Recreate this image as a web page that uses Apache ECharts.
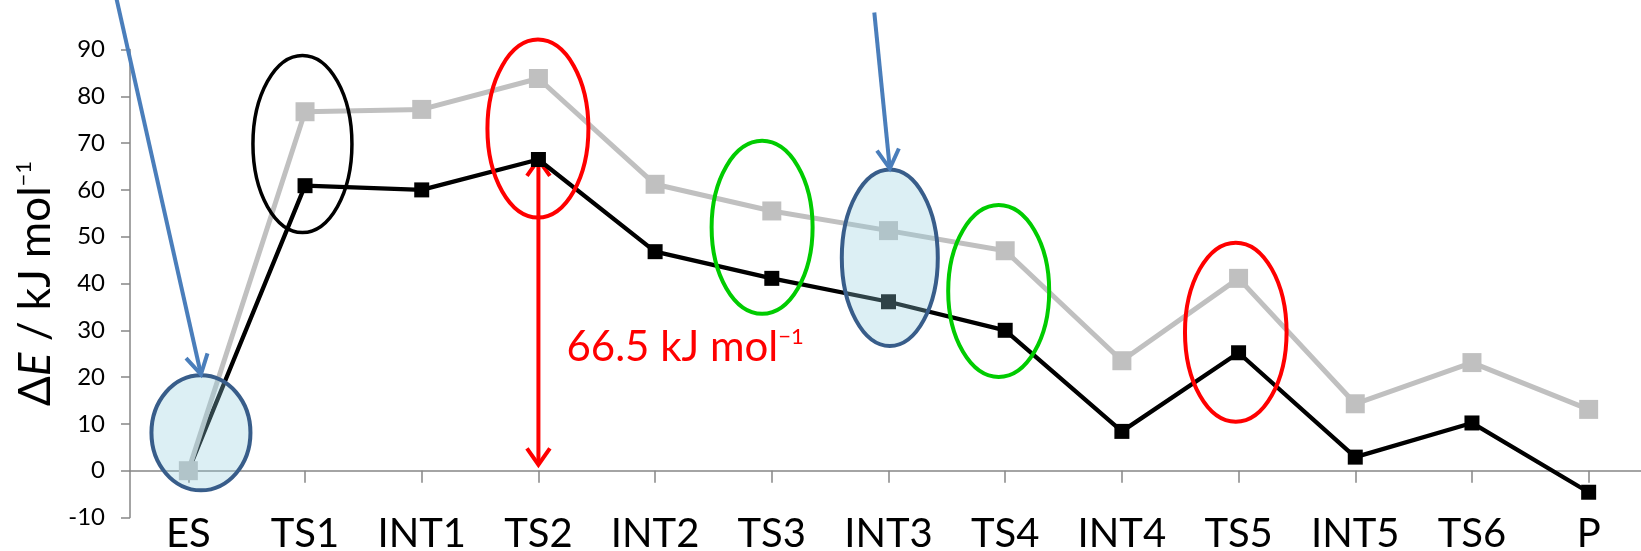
<!DOCTYPE html>
<html><head><meta charset="utf-8">
<script src="https://cdn.jsdelivr.net/npm/echarts@6/dist/echarts.min.js"></script>
<style>html,body{margin:0;padding:0;background:#fff}#c{width:1641px;height:551px}</style>
</head><body><div id="c"></div>
<script>
// ---- data ----
const categories = ['ES','TS1','INT1','TS2','INT2','TS3','INT3','TS4','INT4','TS5','INT5','TS6','P'];
const greyValues  = [0, 76.7, 77.2, 83.8, 61.2, 55.5, 51.3, 47.0, 23.5, 41.1, 14.3, 23.1, 13.1];
const blackValues = [0, 60.9, 60.0, 66.5, 46.8, 41.1, 36.1, 30.0, 8.4, 25.2, 2.9, 10.2, -4.6];
const yMin = -10, yMax = 90, yInterval = 10;
const barrierCategory = 'TS2';
const barrierValue = 66.5;
const barrierText = '66.5 kJ mol';
const unitSup = '\u22121';

// ---- annotation geometry (ellipse centres in data space + pixel offsets) ----
const ellipses = [
  {cat:'ES',   val:8.1,  dx:12.6, rx:49.5, ry:57.5, kind:'blue'},
  {cat:'TS1',  val:69.8, dx:-2.6, rx:49.5, ry:88.5, kind:'black'},
  {cat:'TS2',  val:73.1, dx:-0.5, rx:50.5, ry:89,   kind:'red'},
  {cat:'TS3',  val:52.0, dx:-9.7, rx:50.5, ry:86.5, kind:'green'},
  {cat:'INT3', val:45.5, dx:1.3,  rx:48,   ry:88.2, kind:'blue'},
  {cat:'TS4',  val:38.4, dx:-6.5, rx:50.5, ry:86,   kind:'green'},
  {cat:'TS5',  val:29.6, dx:-2.8, rx:50.8, ry:89.5, kind:'red'}
];
const ellipseStyles = {
  blue:  {fill:'rgba(146,205,220,0.32)', stroke:'#385D8A', lineWidth:4},
  black: {fill:'none', stroke:'#000000', lineWidth:3.5},
  red:   {fill:'none', stroke:'#FF0000', lineWidth:4},
  green: {fill:'none', stroke:'#00CC00', lineWidth:4}
};
// blue pointer arrows: target ellipse index, start offset from tip (px)
const pointers = [
  {target:0, sx:-85, sy:-378},
  {target:4, sx:-15.5, sy:-156}
];

const FONT = 'Lato';
const chart = echarts.init(document.getElementById('c'), null, {renderer:'canvas'});
chart.setOption({
  animation:false,
  backgroundColor:'#ffffff',
  grid:{left:130, top:49.5, width:1517, height:468, containLabel:false, outerBoundsMode:'none'},
  xAxis:[{
    type:'category', data:categories, boundaryGap:true,
    axisLine:{show:true, onZero:true, lineStyle:{color:'#868686', width:1.7}},
    axisTick:{show:true, alignWithLabel:true, length:12, lineStyle:{color:'#868686', width:1.5}},
    axisLabel:{show:false},
    splitLine:{show:false}
  },{
    type:'category', data:categories, boundaryGap:true, position:'bottom',
    axisLine:{show:false, onZero:false},
    axisTick:{show:false},
    axisLabel:{interval:0, margin:1.5, lineHeight:30, fontSize:40, fontFamily:FONT, color:'#000', hideOverlap:false},
    splitLine:{show:false}
  }],
  yAxis:{
    type:'value', min:yMin, max:yMax, interval:yInterval,
    axisLine:{show:true, lineStyle:{color:'#868686', width:1.5}},
    axisTick:{show:true, length:9, lineStyle:{color:'#868686', width:1.5}},
    axisLabel:{margin:25, fontSize:24, fontFamily:FONT, color:'#000'},
    splitLine:{show:false},
    name:'{n|\u0394}{i|E}{n| / kJ mol}{s|' + unitSup + '}',
    nameLocation:'middle', nameRotate:90, nameGap:72,
    nameTextStyle:{
      fontSize:44, fontFamily:FONT, color:'#000',
      rich:{
        n:{fontSize:44, fontFamily:FONT, color:'#000'},
        i:{fontSize:44, fontFamily:FONT, fontStyle:'italic', color:'#000'},
        s:{fontSize:22, fontFamily:FONT, color:'#000', verticalAlign:'top'}
      }
    }
  },
  series:[
    {type:'line', name:'black', data:blackValues, symbol:'rect', symbolSize:15,
     lineStyle:{color:'#000', width:4.3}, itemStyle:{color:'#000'}, z:2},
    {type:'line', name:'grey', data:greyValues, symbol:'rect', symbolSize:19,
     lineStyle:{color:'#C0C0C0', width:5}, itemStyle:{color:'#C0C0C0'}, z:3}
  ]
});

function px(cat, val){
  const i = typeof cat === 'number' ? cat : categories.indexOf(cat);
  return chart.convertToPixel({xAxisIndex:0, yAxisIndex:0}, [i, val]);
}
function head(tip, start, L, deg){
  const dx = start[0]-tip[0], dy = start[1]-tip[1];
  const len = Math.hypot(dx,dy), bx = dx/len, by = dy/len;
  const t = deg*Math.PI/180;
  const r = (a)=>[tip[0] + L*(bx*Math.cos(a) - by*Math.sin(a)), tip[1] + L*(bx*Math.sin(a) + by*Math.cos(a))];
  return [r(t), tip, r(-t)];
}

const g = [];
const centres = ellipses.map(e => { const p = px(e.cat, e.val); return [p[0]+e.dx, p[1]]; });
// red double arrow (under series)
const arrTop = px(barrierCategory, barrierValue);
const arrBot = px(barrierCategory, 0); arrBot[1] -= 6;
g.push({type:'polyline', z:1, shape:{points:[arrTop, arrBot]}, style:{stroke:'#FF0000', lineWidth:4, fill:null}});
g.push({type:'polyline', z:1, shape:{points:head(arrTop, arrBot, 20, 35)}, style:{stroke:'#FF0000', lineWidth:4, fill:null, lineJoin:'miter'}});
g.push({type:'polyline', z:1, shape:{points:head(arrBot, arrTop, 20, 35)}, style:{stroke:'#FF0000', lineWidth:4, fill:null, lineJoin:'miter'}});
// ellipses
ellipses.forEach((e, k) => {
  const s = ellipseStyles[e.kind];
  g.push({type:'ellipse', z:100, shape:{cx:centres[k][0], cy:centres[k][1], rx:e.rx, ry:e.ry},
          style:{fill:s.fill === 'none' ? null : s.fill, stroke:s.stroke, lineWidth:s.lineWidth}});
});
// blue pointers
pointers.forEach(p => {
  const e = ellipses[p.target], c = centres[p.target];
  const tip = [c[0], c[1] - e.ry - 1];
  const start = [tip[0] + p.sx, tip[1] + p.sy];
  g.push({type:'polyline', z:110, shape:{points:[start, tip]}, style:{stroke:'#4A7EBB', lineWidth:4, fill:null}});
  g.push({type:'polyline', z:110, shape:{points:head(tip, start, 22, 30)}, style:{stroke:'#4A7EBB', lineWidth:4, fill:null, lineJoin:'miter'}});
});
// barrier label
const lp = px(barrierCategory, 26.4);
g.push({type:'text', z:110, x:lp[0] + 28, y:lp[1],
  style:{text:'{a|' + barrierText + '}{b|' + unitSup + '}', align:'left', verticalAlign:'middle',
    rich:{a:{fontSize:42, fontFamily:FONT, fill:'#FF0000', color:'#FF0000'},
          b:{fontSize:22, fontFamily:FONT, fill:'#FF0000', color:'#FF0000', verticalAlign:'top'}}}});
chart.setOption({graphic:g});
</script>
</body></html>
